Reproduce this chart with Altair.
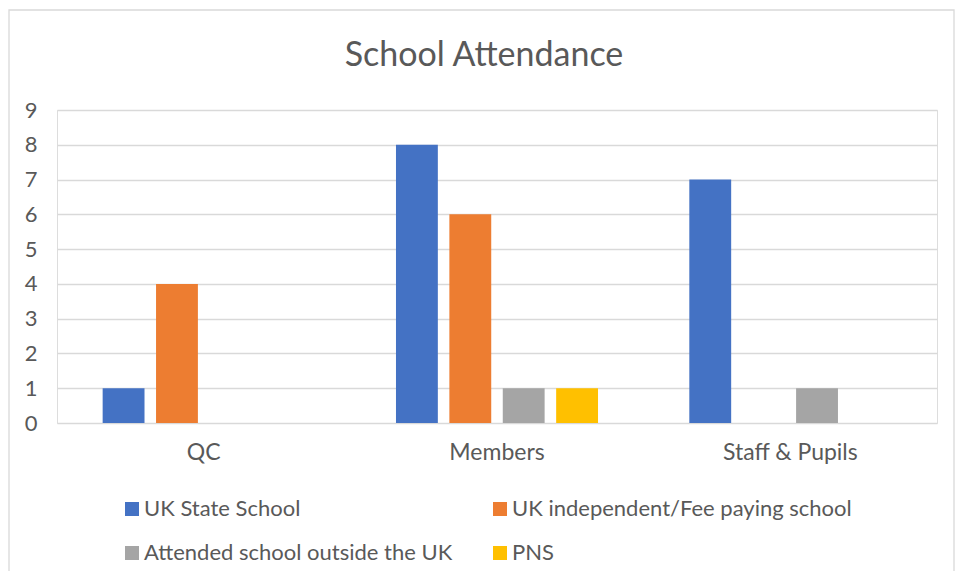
import altair as alt
import pandas as pd

title_text = "School Attendance"
categories = ["QC", "Members", "Staff & Pupils"]
series = ["UK State School", "UK independent/Fee paying school",
          "Attended school outside the UK", "PNS"]
uk_state = [1, 8, 7]
uk_independent = [4, 6, 0]
outside_uk = [0, 1, 1]
pns = [0, 1, 0]
colors = ["#4472C4", "#ED7D31", "#A5A5A5", "#FFC000"]
y_ticks = list(range(0, 10))

rows = []
for s, vals in zip(series, [uk_state, uk_independent, outside_uk, pns]):
    for c, v in zip(categories, vals):
        rows.append({"category": c, "series": s, "value": v})
df = pd.DataFrame(rows)

FONT = "Lato"
TXT = "#595959"
GRID = "#D9D9D9"

bars = alt.Chart(df).mark_bar().encode(
    x=alt.X("category:N", sort=categories, title=None,
            scale=alt.Scale(paddingInner=0, paddingOuter=0),
            axis=alt.Axis(labelAngle=0, ticks=False, domain=False, grid=False,
                          labelFontSize=23, labelFont=FONT, labelColor=TXT,
                          labelPadding=18)),
    xOffset=alt.XOffset("series:N", sort=series,
                        scale=alt.Scale(paddingInner=0.216, paddingOuter=0.855)),
    y=alt.Y("value:Q", title=None, scale=alt.Scale(domain=[0, 9], nice=False),
            axis=alt.Axis(values=y_ticks, ticks=False, domain=False, grid=True,
                          gridColor=GRID, gridWidth=1.3,
                          labelFontSize=22, labelFont=FONT, labelColor=TXT,
                          labelPadding=20)),
    color=alt.Color("series:N", sort=series,
                    scale=alt.Scale(domain=series, range=colors),
                    legend=alt.Legend(title=None, orient="none", legendX=64, legendY=388,
                                      columns=2, direction="horizontal",
                                      symbolType="square", symbolSize=196,
                                      labelFontSize=22, labelFont=FONT, labelColor=TXT,
                                      labelLimit=600, columnPadding=36, rowPadding=22,
                                      labelOffset=1, padding=0, symbolStrokeWidth=0)),
)

title = alt.Chart(pd.DataFrame({"t": [title_text]})).mark_text(
    font=FONT, fontSize=34, color=TXT, align="center", baseline="alphabetic"
).encode(text="t:N", x=alt.value(427), y=alt.value(-44))

border = alt.Chart(pd.DataFrame({"k": [0]})).mark_rect(
    fill="transparent", stroke=GRID, strokeWidth=1.3
).encode(x=alt.value(-48), x2=alt.value(897), y=alt.value(-100), y2=alt.value(480))

chart = alt.layer(border, bars, title).properties(
    width=880, height=313,
    autosize=alt.AutoSizeParams(type="none"),
    padding={"left": 49, "top": 102, "right": 18, "bottom": 148},
).configure_view(stroke="transparent", strokeWidth=0).configure(background="white")

chart.save("out.html", embed_options={"renderer": "svg", "actions": False})
